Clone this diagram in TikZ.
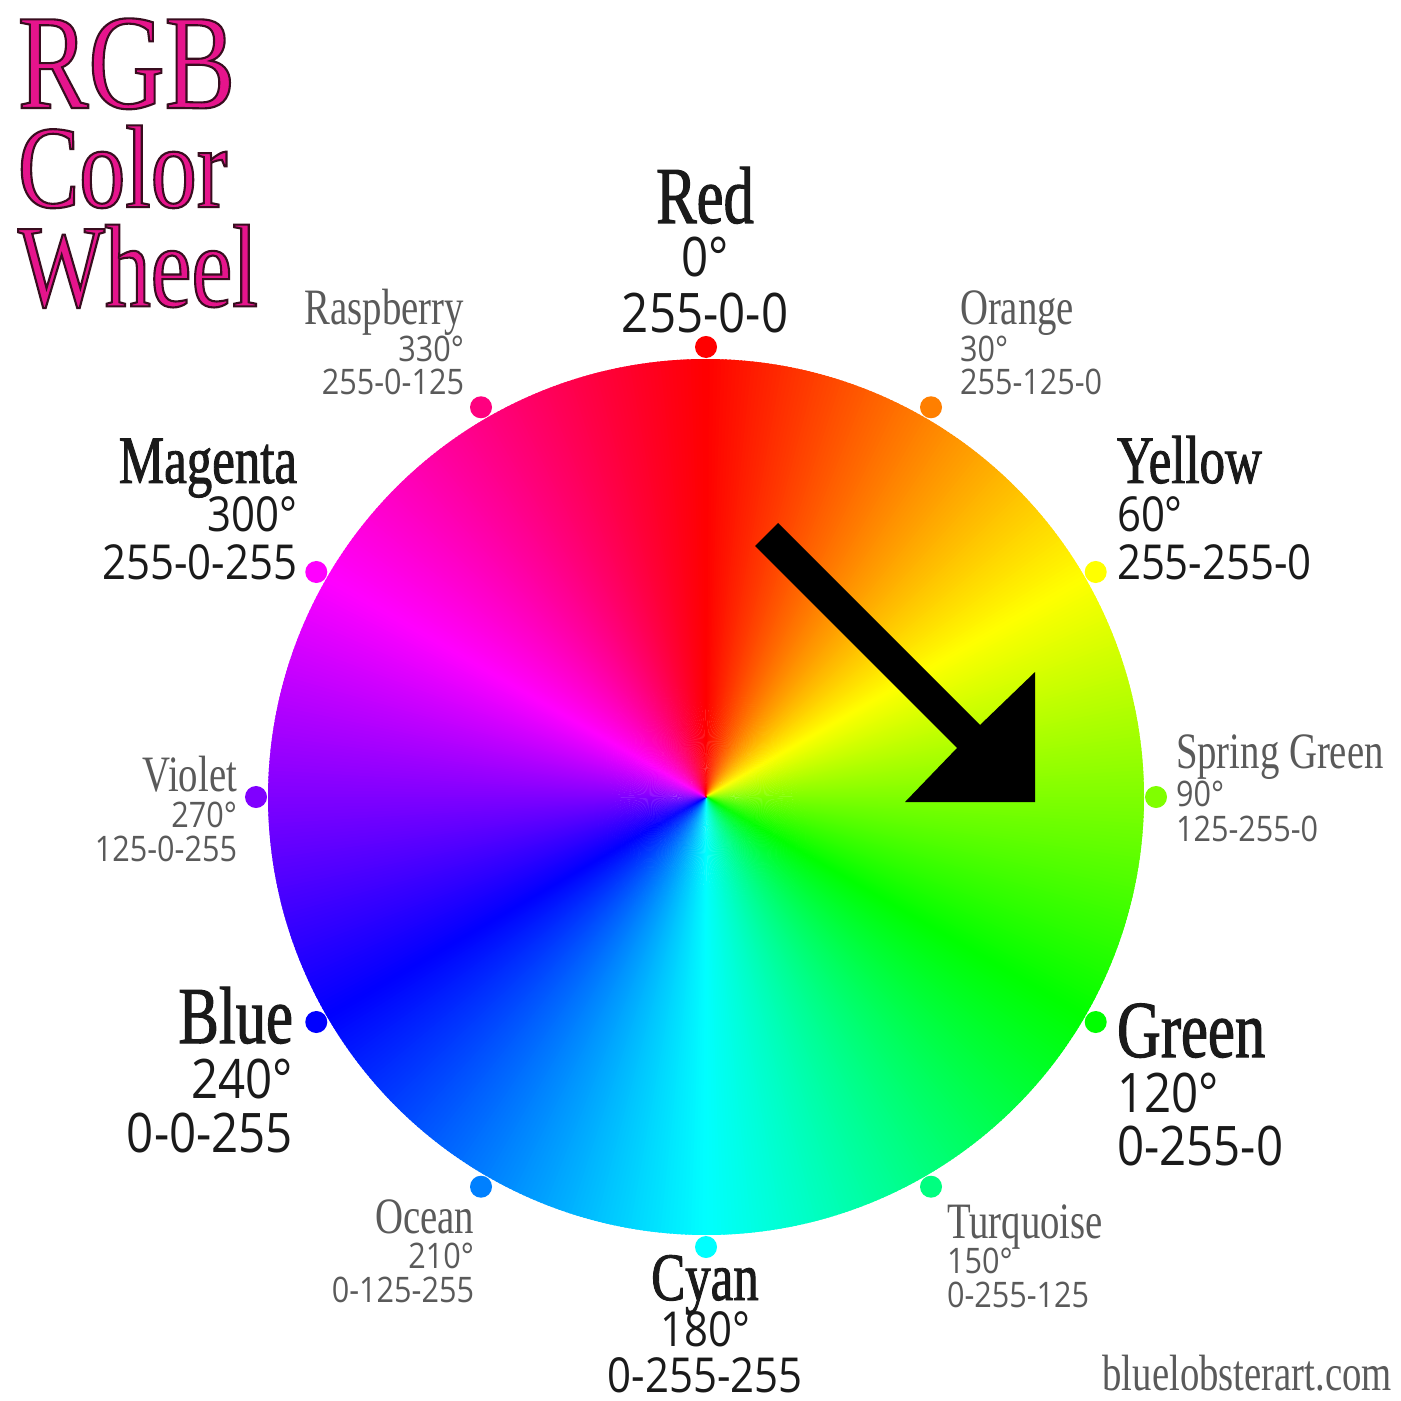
\PassOptionsToPackage{rgb}{xcolor}
\documentclass[tikz,border=0pt]{standalone}
\usepackage{fontspec}
\newfontfamily\namefont[FakeStretch=0.76]{Liberation Serif}
\newfontfamily\heavynamefont[FakeStretch=0.75,FakeBold=1.3]{Liberation Serif}
\newfontfamily\numfont[FakeStretch=0.87]{Open Sans}
\newfontfamily\titlefont[FakeStretch=0.78]{Liberation Serif}
\newcommand\outlinetext[1]{\leavevmode\special{pdf:literal direct 2 Tr 0.6 w 0.22 0.05 0.12 RG}#1\special{pdf:literal direct 0 Tr}}
\definecolor{ink}{HTML}{1A1A1A}
\definecolor{gry}{HTML}{5A5A5A}
\definecolor{pinkt}{RGB}{230,20,140}
\tikzset{
  lbl/.style={inner sep=0pt, outer sep=0pt},
  bigname/.style={lbl, text=ink, font=\heavynamefont\fontsize{23}{23}\selectfont},
  midname/.style={lbl, text=ink, font=\heavynamefont\fontsize{19.3}{19.3}\selectfont},
  smallname/.style={lbl, text=gry, font=\namefont\fontsize{14.5}{14.5}\selectfont},
  bignum/.style={lbl, text=ink, font=\numfont\fontsize{15.5}{15.5}\selectfont},
  midnum/.style={lbl, text=ink, font=\numfont\fontsize{13.7}{13.7}\selectfont},
  smallnum/.style={lbl, text=gry, font=\numfont\fontsize{10}{10}\selectfont},
  dot/.style={circle, inner sep=0pt, minimum size=0.22cm},
  titletext/.style={lbl, anchor=base west, text=pinkt},
}
\begin{document}
\begin{tikzpicture}[x=0.01cm,y=-0.01cm]
\useasboundingbox (0,0) rectangle (1400,1401);
\fill[white] (0,0) rectangle (1400,1401);
% colour wheel
\coordinate (C) at (706,797);
\foreach \h in {0,0.5,...,359.5}{
  \pgfmathsetmacro\hc{\h+0.25}
  \definecolor{wch}{Hsb}{\hc,1,1}
  \colorlet{wc}[rgb]{wch}
  \fill[wc] (C) -- +(\h-90:438) -- +(\h-89.2:438) -- cycle;
}
% dots
\foreach \h/\n in {0/dRed,30/dOrange,60/dYellow,90/dSpring,120/dGreen,150/dTurq,180/dCyan,210/dOcean,240/dBlue,270/dViolet,300/dMagenta,330/dRasp}{
  \definecolor{dch}{Hsb}{\h,1,1}
  \colorlet{dc}[rgb]{dch}
  \node[dot, fill=dc] (\n) at ([shift={(\h-90:450)}]C) {};
}
% arrow
\fill[black] (778,523) -- (980,725) -- (1035,672) -- (1035,802) -- (905,802) -- (957,748) -- (755,546) -- cycle;
% title
\node[titletext] (title) at (18,108) {\parbox[t]{4cm}{\titlefont\setlength\lineskip{0pt}\setlength\lineskiplimit{-100pt}%
  \fontsize{38.5}{28.2}\selectfont\outlinetext{RGB}\par
  \fontsize{33.5}{28.2}\selectfont\outlinetext{Color}\par
  \outlinetext{Wheel}}};
% Red
\node[bigname, anchor=base] (nRed) at (705,223) {Red};
\node[bignum, anchor=base] (aRed) at (705,277) {0°};
\node[bignum, anchor=base] (vRed) at (705,333) {255-0-0};
% Orange
\node[smallname, anchor=base west] (nOrange) at (960,325) {Orange};
\node[smallnum, anchor=base west] (aOrange) at (960,362) {30°};
\node[smallnum, anchor=base west] (vOrange) at (960,395) {255-125-0};
% Yellow
\node[midname, anchor=base west] (nYellow) at (1117,483) {Yellow};
\node[midnum, anchor=base west] (aYellow) at (1117,532) {60°};
\node[midnum, anchor=base west] (vYellow) at (1117,580) {255-255-0};
% Spring Green
\node[smallname, anchor=base west] (nSpring) at (1176,768) {Spring Green};
\node[smallnum, anchor=base west] (aSpring) at (1176,806) {90°};
\node[smallnum, anchor=base west] (vSpring) at (1176,841) {125-255-0};
% Green
\node[bigname, anchor=base west] (nGreen) at (1117,1057) {Green};
\node[bignum, anchor=base west] (aGreen) at (1117,1112) {120°};
\node[bignum, anchor=base west] (vGreen) at (1117,1165) {0-255-0};
% Turquoise
\node[smallname, anchor=base west] (nTurq) at (947,1238) {Turquoise};
\node[smallnum, anchor=base west] (aTurq) at (947,1273) {150°};
\node[smallnum, anchor=base west] (vTurq) at (947,1307) {0-255-125};
% Cyan
\node[midname, anchor=base] (nCyan) at (705,1300) {Cyan};
\node[midnum, anchor=base] (aCyan) at (705,1346) {180°};
\node[midnum, anchor=base] (vCyan) at (705,1392) {0-255-255};
% Ocean
\node[smallname, anchor=base east] (nOcean) at (474,1233) {Ocean};
\node[smallnum, anchor=base east] (aOcean) at (474,1268) {210°};
\node[smallnum, anchor=base east] (vOcean) at (474,1302) {0-125-255};
% Blue
\node[bigname, anchor=base east] (nBlue) at (293,1043) {Blue};
\node[bignum, anchor=base east] (aBlue) at (293,1098) {240°};
\node[bignum, anchor=base east] (vBlue) at (293,1152) {0-0-255};
% Violet
\node[smallname, anchor=base east] (nViolet) at (237,791) {Violet};
\node[smallnum, anchor=base east] (aViolet) at (237,827) {270°};
\node[smallnum, anchor=base east] (vViolet) at (237,861) {125-0-255};
% Magenta
\node[midname, anchor=base east] (nMagenta) at (297,483) {Magenta};
\node[midnum, anchor=base east] (aMagenta) at (297,532) {300°};
\node[midnum, anchor=base east] (vMagenta) at (297,580) {255-0-255};
% Raspberry
\node[smallname, anchor=base east] (nRasp) at (464,325) {Raspberry};
\node[smallnum, anchor=base east] (aRasp) at (464,362) {330°};
\node[smallnum, anchor=base east] (vRasp) at (464,395) {255-0-125};
% website
\node[smallname, anchor=base east] (web) at (1392,1390) {bluelobsterart.com};
\end{tikzpicture}
\end{document}
